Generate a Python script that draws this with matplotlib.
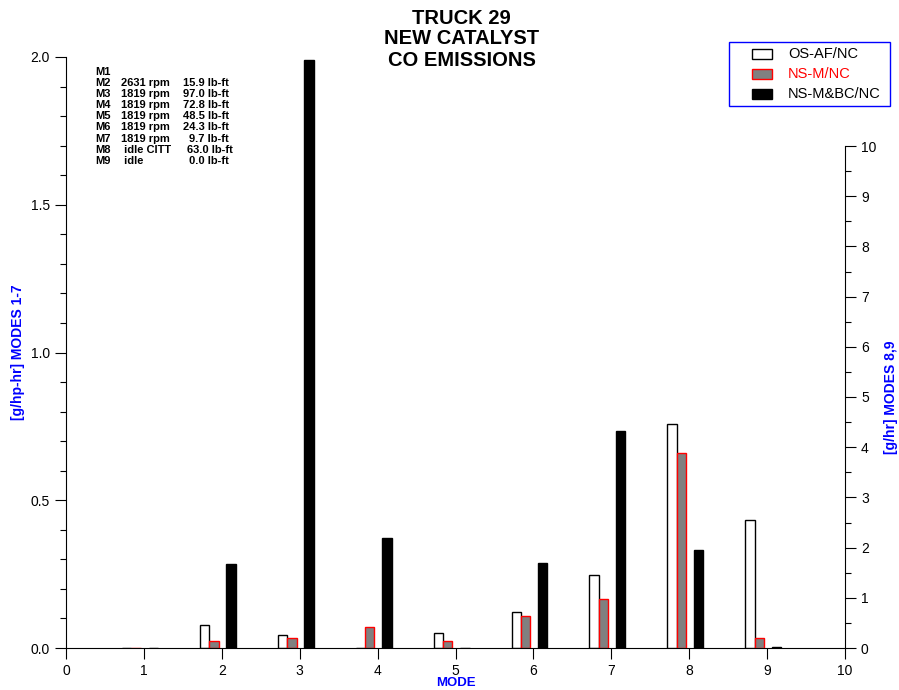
import numpy as np
import matplotlib
matplotlib.use("Agg")
import matplotlib.pyplot as plt
from matplotlib.patches import Rectangle
from matplotlib.ticker import MultipleLocator, FixedLocator, FormatStrFormatter

plt.rcParams['font.family'] = ['Liberation Sans', 'DejaVu Sans']

# modes 1-7 in g/hp-hr (left axis), modes 8-9 in g/hr (right axis)
modes_left = [1, 2, 3, 4, 5, 6, 7]
os_af_left = [0, 0.077, 0.043, 0, 0.051, 0.122, 0.246]
ns_m_left = [0, 0.025, 0.034, 0.072, 0.025, 0.107, 0.166]
ns_mbc_left = [0, 0.284, 1.99, 0.372, 0, 0.289, 0.733]

modes_right = [8, 9]
os_af_right = [4.46, 2.54]
ns_m_right = [3.88, 0.2]
ns_mbc_right = [1.95, 0.02]

series_names = ["OS-AF/NC", "NS-M/NC", "NS-M&BC/NC"]

mode_ids = ["M1", "M2", "M3", "M4", "M5", "M6", "M7", "M8", "M9"]
mode_speed = ["", "2631 rpm", "1819 rpm", "1819 rpm", "1819 rpm", "1819 rpm", "1819 rpm", " idle CITT", " idle"]
mode_torque = ["", "15.9 lb-ft", "97.0 lb-ft", "72.8 lb-ft", "48.5 lb-ft", "24.3 lb-ft", "9.7 lb-ft", "63.0 lb-ft", "0.0 lb-ft"]

W, H = 899, 690
def fx(px):
    return px / W
def fy(py):
    return 1 - py / H

fig = plt.figure(figsize=(8.99, 6.90), dpi=100)
ax = fig.add_axes([fx(66), fy(648), (845-66)/W, (648-57)/H])
ax2 = ax.twinx()

w = 0.12
offs = [-0.22, -0.10, 0.12]
styles = [dict(color="white", edgecolor="black"),
          dict(color="#808080", edgecolor="red"),
          dict(color="black", edgecolor="black")]

xl = np.array(modes_left)
for vals, o, st in zip([os_af_left, ns_m_left, ns_mbc_left], offs, styles):
    ax.bar(xl + o, vals, width=w, linewidth=1.0, **st)

xr = np.array(modes_right)
for vals, o, st in zip([os_af_right, ns_m_right, ns_mbc_right], offs, styles):
    ax2.bar(xr + o, vals, width=w, linewidth=1.0, **st)

ax.set_xlim(0, 10)
ax.set_ylim(0, 2.0)
ax.set_xticks(range(0, 11))
ax.yaxis.set_major_locator(MultipleLocator(0.5))
ax.yaxis.set_minor_locator(MultipleLocator(0.1))
ax.yaxis.set_major_formatter(FormatStrFormatter("%.1f"))
ax.tick_params(labelsize=10, length=8, width=0.8)
ax.tick_params(which="minor", length=4, width=0.8)
ax.spines["top"].set_visible(False)
ax.spines["right"].set_visible(False)

ax2.set_ylim(0, 10 * 591 / 502)
ax2.spines["right"].set_bounds(0, 10)
ax2.spines["top"].set_visible(False)
ax2.spines["left"].set_visible(False)
ax2.spines["bottom"].set_visible(False)
ax2.set_yticks(range(0, 11))
ax2.yaxis.set_minor_locator(FixedLocator([i + 0.5 for i in range(10)]))
ax2.tick_params(labelsize=10, length=8, width=0.8)
ax2.tick_params(which="minor", length=4, width=0.8)

ax.set_xlabel("MODE", color="blue", fontweight="bold", fontsize=9.5)
ax.xaxis.set_label_coords(0.5, (648 - 677) / 591)
ax.set_ylabel("[g/hp-hr] MODES 1-7", color="blue", fontweight="bold", fontsize=10)
ax.yaxis.set_label_coords((25 - 66) / 779, 0.5)
ax2.set_ylabel("[g/hr] MODES 8,9", color="blue", fontweight="bold", fontsize=10)
ax2.yaxis.set_label_coords((884 - 66) / 779, (648 - 397) / 591)

# title, one line at a time
for txt, yc in zip(["TRUCK 29", "NEW CATALYST", "CO EMISSIONS"], [18, 39, 60]):
    fig.text(fx(461.5), fy(yc), txt, ha="center", va="center", fontsize=14.5, fontweight="bold")

# mode description block
for i in range(len(mode_ids)):
    y = 72 + i * 11.1
    fig.text(fx(95), fy(y), mode_ids[i], fontsize=8, fontweight="bold", va="center")
    fig.text(fx(121), fy(y), mode_speed[i], fontsize=8, fontweight="bold", va="center")
    fig.text(fx(233 if i == 7 else 229), fy(y), mode_torque[i],
             fontsize=8, fontweight="bold", va="center", ha="right")

# legend box drawn by hand
fig.add_artist(Rectangle((fx(729), fy(106)), 161 / W, 64 / H, transform=fig.transFigure,
                         facecolor="white", edgecolor="blue", linewidth=1.0))
text_colors = ["black", "red", "black"]
for name, st, yc, tc in zip(series_names, styles, [54, 74, 94], text_colors):
    fig.add_artist(Rectangle((fx(752), fy(yc + 5)), 20 / W, 10 / H, transform=fig.transFigure,
                             facecolor=st["color"], edgecolor=st["edgecolor"], linewidth=1.0))
    fig.text(fx(788), fy(yc), name, color=tc, fontsize=10.5, va="center")

fig.savefig("out.png", dpi=100)
